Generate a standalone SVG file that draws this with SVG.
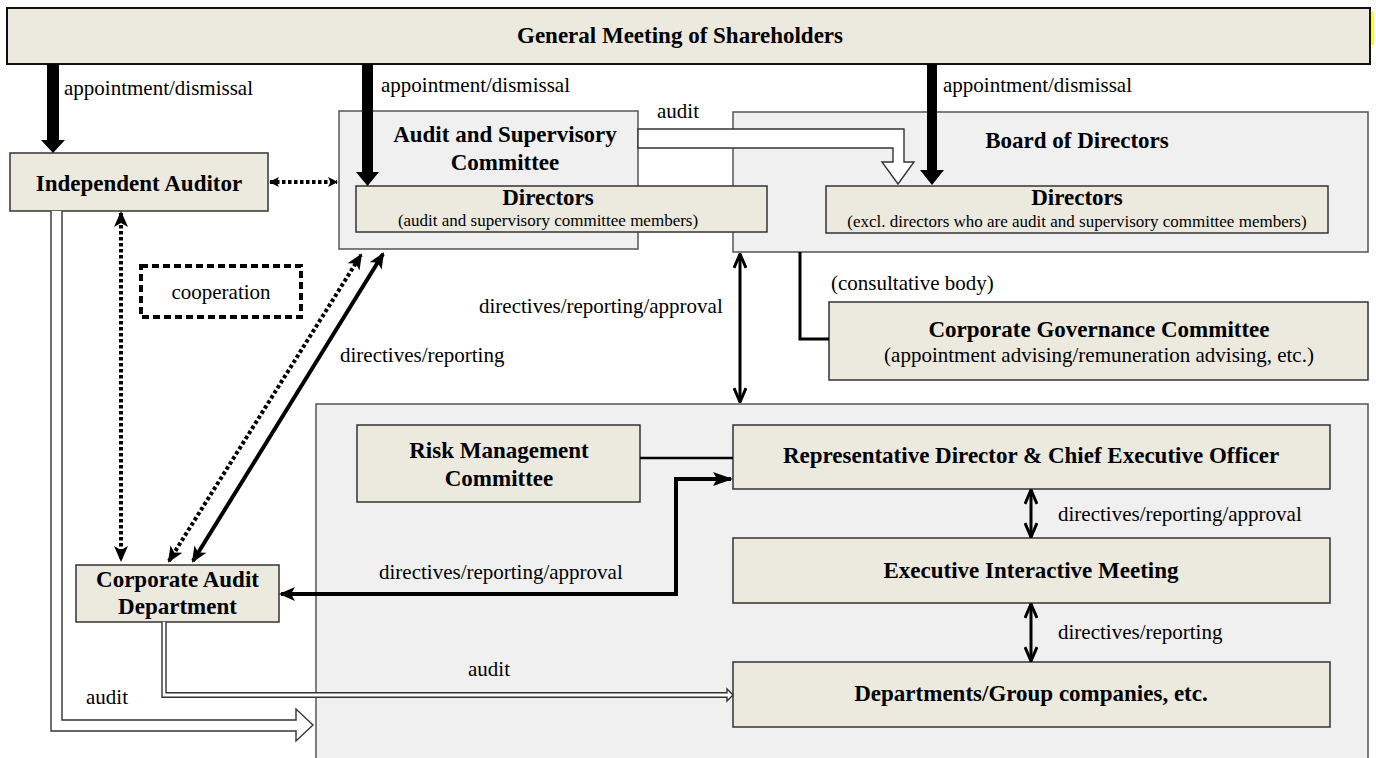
<svg xmlns="http://www.w3.org/2000/svg" width="1376" height="758" viewBox="0 0 1376 758">
<defs>
<style>
.cont{fill:#F0F0F0;stroke:#555;stroke-width:1.5}
.node{fill:#ECE9DF;stroke:#333;stroke-width:1.5}
.t{font-family:"Liberation Serif","Times New Roman",serif;font-weight:bold;font-size:23px;fill:#000;text-anchor:middle}
.s{font-family:"Liberation Serif","Times New Roman",serif;font-size:17px;fill:#000;text-anchor:middle}
.l{font-family:"Liberation Serif","Times New Roman",serif;font-size:21px;fill:#000}
.lc{text-anchor:middle}
.big{fill:#000}
.open{fill:#fff;stroke:#333;stroke-width:1.4}
.dot{fill:none;stroke:#000;stroke-width:4;stroke-dasharray:3.5 2.5}
.sol{fill:none;stroke:#000;stroke-width:4}
.thin{fill:none;stroke:#000;stroke-width:3}
.coop{fill:#fff;stroke:#000;stroke-width:4;stroke-dasharray:7 4}
</style>
<marker id="fh" viewBox="0 0 16 14" refX="14" refY="7" markerWidth="16" markerHeight="14" markerUnits="userSpaceOnUse" orient="auto-start-reverse">
<path d="M0,0 L16,7 L0,14 L4,7 z" fill="#000"/>
</marker>
<marker id="fhs" viewBox="0 0 10 10" refX="9" refY="5" markerWidth="10" markerHeight="10" markerUnits="userSpaceOnUse" orient="auto-start-reverse">
<path d="M0,0 L10,5 L0,10 L2.5,5 z" fill="#000"/>
</marker>
<marker id="fhl" viewBox="0 0 20 14" refX="18" refY="7" markerWidth="20" markerHeight="14" markerUnits="userSpaceOnUse" orient="auto-start-reverse">
<path d="M0,0 L20,7 L0,14 L4,7 z" fill="#000"/>
</marker>
<marker id="ch" viewBox="0 0 16 14" refX="15" refY="7" markerWidth="16" markerHeight="14" markerUnits="userSpaceOnUse" orient="auto-start-reverse">
<path d="M1,1 L15,7 L1,13" fill="none" stroke="#000" stroke-width="3"/>
</marker>
</defs>

<g id="gm">
<rect x="7" y="8" width="1363" height="56" fill="#ECE9DF" stroke="#111" stroke-width="2"/>
<rect x="1371" y="12" width="3" height="33" fill="#FFFF00"/>
<text class="t" x="680" y="43">General Meeting of Shareholders</text>
</g>

<g id="board">
<rect class="cont" x="733" y="112" width="635" height="140"/>
<text class="t" x="1077" y="148">Board of Directors</text>
</g>

<g id="asc">
<rect class="cont" x="339" y="111" width="299" height="138"/>
<text class="t" x="505" y="142">Audit and Supervisory</text>
<text class="t" x="505" y="170">Committee</text>
</g>

<g id="asc-directors">
<rect class="node" x="356" y="186" width="411" height="46"/>
<text class="t" x="548" y="205">Directors</text>
<text class="s" x="548" y="226">(audit and supervisory committee members)</text>
</g>

<g id="board-directors">
<rect class="node" x="826" y="186" width="502" height="47"/>
<text class="t" x="1077" y="205">Directors</text>
<text class="s" x="1077" y="227">(excl. directors who are audit and supervisory committee members)</text>
</g>

<g id="independent-auditor">
<rect class="node" x="10" y="153" width="258" height="58"/>
<text class="t" x="139" y="191">Independent Auditor</text>
</g>

<g id="cgc">
<rect class="node" x="829" y="302" width="539" height="78"/>
<text class="t" x="1099" y="337">Corporate Governance Committee</text>
<text class="l lc" x="1099" y="362">(appointment advising/remuneration advising, etc.)</text>
</g>

<g id="management">
<rect class="cont" x="316" y="404" width="1052" height="360"/>
</g>

<g id="risk">
<rect class="node" x="357" y="425" width="283" height="77"/>
<text class="t" x="499" y="458">Risk Management</text>
<text class="t" x="499" y="486">Committee</text>
</g>

<g id="ceo">
<rect class="node" x="733" y="425" width="597" height="64"/>
<text class="t" x="1031" y="463">Representative Director &amp; Chief Executive Officer</text>
</g>

<g id="exec">
<rect class="node" x="733" y="538" width="597" height="65"/>
<text class="t" x="1031" y="578">Executive Interactive Meeting</text>
</g>

<g id="depts">
<rect class="node" x="733" y="662" width="597" height="65"/>
<text class="t" x="1031" y="701">Departments/Group companies, etc.</text>
</g>

<g id="cad">
<rect class="node" x="76" y="565" width="203" height="57"/>
<text class="t" x="177.5" y="587">Corporate Audit</text>
<text class="t" x="177.5" y="614">Department</text>
</g>

<g id="cooperation">
<rect class="coop" x="141" y="266" width="160" height="51"/>
<text class="l lc" x="221" y="299">cooperation</text>
</g>

<g id="connectors">
<path class="big" d="M47,64 H59 V140 H65 L53,153 L41,140 H47 z"/>
<path class="big" d="M362,64 H373 V172 H379 L367.5,186 L356,172 H362 z"/>
<path class="big" d="M927,64 H937 V170 H944 L932,185 L920,170 H927 z"/>
<path class="open" d="M638,129 H904 V162 H914 L898,184 L882,162 H893 V148 H638 z"/>
<line class="dot" x1="270" y1="182" x2="337" y2="182" marker-start="url(#fhs)" marker-end="url(#fhs)"/>
<line class="dot" x1="121" y1="213" x2="121" y2="560" marker-start="url(#fh)" marker-end="url(#fh)"/>
<line class="dot" x1="169" y1="561" x2="361" y2="255" marker-start="url(#fh)" marker-end="url(#fh)"/>
<line class="sol" x1="193" y1="561" x2="383" y2="254" marker-start="url(#fh)" marker-end="url(#fh)"/>
<line class="thin" x1="740" y1="254" x2="740" y2="402" marker-start="url(#ch)" marker-end="url(#ch)"/>
<polyline class="thin" points="800,252 800,339 829,339"/>
<line x1="640" y1="458" x2="733" y2="458" stroke="#000" stroke-width="2.5"/>
<polyline fill="none" stroke="#000" stroke-width="4" points="281,594 676,594 676,479 731,479" marker-start="url(#fh)" marker-end="url(#fhl)"/>
<line class="thin" x1="1031" y1="490" x2="1031" y2="537" marker-start="url(#ch)" marker-end="url(#ch)"/>
<line class="thin" x1="1031" y1="604" x2="1031" y2="661" marker-start="url(#ch)" marker-end="url(#ch)"/>
<path class="open" d="M51,211 V731 H296 V741 L313,725 L296,709 V720 H62 V211"/>
<path class="open" d="M162,622 V697.3 H727 V701 L733,695 L727,689 V692.7 H166 V622"/>
<text class="l" x="64" y="95">appointment/dismissal</text>
<text class="l" x="381" y="92">appointment/dismissal</text>
<text class="l" x="943" y="92">appointment/dismissal</text>
<text class="l" x="657" y="118">audit</text>
<text class="l" x="831" y="290">(consultative body)</text>
<text class="l" x="479" y="313">directives/reporting/approval</text>
<text class="l" x="340" y="362">directives/reporting</text>
<text class="l" x="1058" y="521">directives/reporting/approval</text>
<text class="l" x="379" y="579">directives/reporting/approval</text>
<text class="l" x="1058" y="639">directives/reporting</text>
<text class="l" x="468" y="676">audit</text>
<text class="l" x="86" y="704">audit</text>
</g>
</svg>
